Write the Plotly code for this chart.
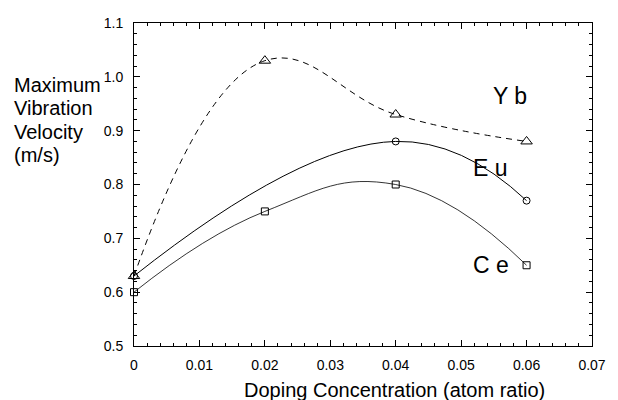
import plotly.graph_objects as go

# Doping concentration (atom ratio) and maximum vibration velocity (m/s)
yb_x = [0.0, 0.02, 0.04, 0.06]
yb_v = [0.63, 1.03, 0.93, 0.88]

eu_x = [0.0, 0.04, 0.06]
eu_v = [0.63, 0.88, 0.77]

ce_x = [0.0, 0.02, 0.04, 0.06]
ce_v = [0.60, 0.75, 0.80, 0.65]

x_ticks = [0, 0.01, 0.02, 0.03, 0.04, 0.05, 0.06, 0.07]
x_tick_text = ["0", "0.01", "0.02", "0.03", "0.04", "0.05", "0.06", "0.07"]
y_ticks = [0.5, 0.6, 0.7, 0.8, 0.9, 1.0, 1.1]
y_tick_text = ["0.5", "0.6", "0.7", "0.8", "0.9", "1.0", "1.1"]

FONT = "Liberation Sans, Arial, Helvetica, sans-serif"

fig = go.Figure()

fig.add_trace(go.Scatter(
    x=yb_x, y=yb_v, mode="lines+markers", name="Yb",
    line=dict(color="black", width=1, dash="6px,5px", shape="spline", smoothing=1.2),
    marker=dict(symbol="triangle-up-open", size=10, color="black", line=dict(width=1)),
    cliponaxis=False,
))
fig.add_trace(go.Scatter(
    x=eu_x, y=eu_v, mode="lines+markers", name="Eu",
    line=dict(color="black", width=1, shape="spline", smoothing=1.3),
    marker=dict(symbol="circle-open", size=7, color="black", line=dict(width=1)),
    cliponaxis=False,
))
fig.add_trace(go.Scatter(
    x=ce_x, y=ce_v, mode="lines+markers", name="Ce",
    line=dict(color="black", width=0.8, shape="spline", smoothing=1.3),
    marker=dict(symbol="square-open", size=7, color="black", line=dict(width=1)),
    cliponaxis=False,
))

axis_common = dict(
    showline=True, linecolor="black", linewidth=1, mirror="ticks",
    ticks="inside", ticklen=6, tickwidth=1, tickcolor="black",
    showgrid=False, zeroline=False,
    tickfont=dict(family=FONT, size=14, color="black"),
)

fig.update_xaxes(
    range=[0, 0.07], tickvals=x_ticks, ticktext=x_tick_text, ticklabelstandoff=6,
    minor=dict(dtick=0.002, ticks="inside", ticklen=3, tickcolor="black", showgrid=False),
    **axis_common,
)
fig.update_yaxes(
    range=[0.5, 1.1], tickvals=y_ticks, ticktext=y_tick_text, ticklabelstandoff=7,
    minor=dict(dtick=0.02, ticks="inside", ticklen=3, tickcolor="black", showgrid=False),
    **axis_common,
)

# Series labels
for txt, xv, yv in [("Y b", 0.0575, 0.964), ("E u", 0.0545, 0.830), ("C e", 0.0545, 0.650)]:
    fig.add_annotation(x=xv, y=yv, xref="x", yref="y", text=txt, showarrow=False,
                       font=dict(family=FONT, size=23, color="black"),
                       xanchor="center", yanchor="middle")

# Y axis title, one line per annotation
for txt, yp in [("Maximum", 0.809), ("Vibration", 0.737), ("Velocity", 0.664), ("(m/s)", 0.590)]:
    fig.add_annotation(x=-0.266, y=yp, xref="paper", yref="paper", text=txt, showarrow=False,
                       font=dict(family=FONT, size=20, color="black"),
                       xanchor="left", yanchor="middle", align="left")

# X axis title
fig.add_annotation(x=0.569, y=-0.135, xref="paper", yref="paper",
                   text="Doping Concentration (atom ratio)", showarrow=False,
                   font=dict(family=FONT, size=20, color="black"),
                   xanchor="center", yanchor="middle")

fig.update_layout(
    width=618, height=400,
    margin=dict(l=134, r=18, t=23, b=54),
    paper_bgcolor="white", plot_bgcolor="white",
    showlegend=False,
)

fig.write_html("out.html")
